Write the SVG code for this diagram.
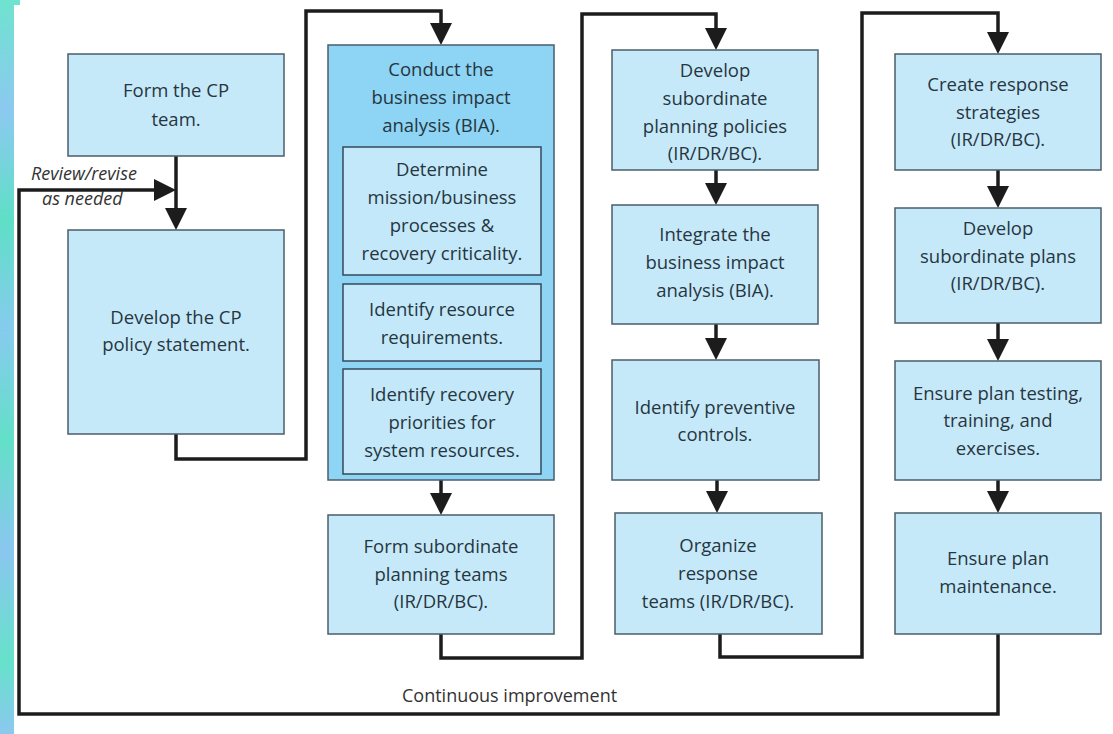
<svg xmlns="http://www.w3.org/2000/svg" width="1113" height="734" viewBox="0 0 1113 734">
<defs>
<linearGradient id="strip" x1="0" y1="0" x2="0" y2="1">
<stop offset="0" stop-color="#6fe3cf"/>
<stop offset="0.15" stop-color="#8cc9f0"/>
<stop offset="0.3" stop-color="#5fdfc6"/>
<stop offset="0.45" stop-color="#86cbee"/>
<stop offset="0.6" stop-color="#63e0c8"/>
<stop offset="0.75" stop-color="#8ac6ef"/>
<stop offset="0.9" stop-color="#66e1ca"/>
<stop offset="1" stop-color="#8bc8ef"/>
</linearGradient>
<marker id="ah" markerUnits="userSpaceOnUse" markerWidth="22" markerHeight="22" viewBox="0 0 22 22" refX="12" refY="11" orient="auto">
<path d="M0,0 L22,11 L0,22 Z" fill="#1c1c1c"/>
</marker>
<style>
.box{fill:#c6e9fa;stroke:#4a5d6a;stroke-width:1.5}
.big{fill:#8ed4f4;stroke:#4a5d6a;stroke-width:1.5}
.inner{fill:#c3e8f9;stroke:#34495a;stroke-width:1.5}
.t{font-family:"Open Sans","Noto Sans","Liberation Sans",sans-serif;font-size:18.5px;fill:#263640;text-anchor:middle}
.c{fill:none;stroke:#1c1c1c;stroke-width:3.5}
.a{marker-end:url(#ah)}
.lbl{font-family:"Open Sans","Noto Sans","Liberation Sans",sans-serif;font-size:18px;fill:#333}
</style>
</defs>
<rect x="0" y="0" width="1113" height="734" fill="#ffffff"/>
<rect x="0" y="0" width="14" height="734" fill="url(#strip)"/>
<rect x="0" y="0" width="20" height="5" fill="#6fe3cf"/>

<g id="connectors">
<path class="c a" d="M176,156 V220"/>
<path class="c a" d="M998,634 V714 H19 V190 H166"/>
<path class="c a" d="M176,434 V459 H306 V11 H441 V35"/>
<path class="c a" d="M441,480 V505"/>
<path class="c a" d="M441,634 V658 H582 V14 H716 V40"/>
<path class="c a" d="M716,170 V195"/>
<path class="c a" d="M716,324 V350"/>
<path class="c a" d="M717,480 V503"/>
<path class="c a" d="M720,634 V657 H862 V13 H998 V44"/>
<path class="c a" d="M998,170 V198"/>
<path class="c a" d="M998,323 V351"/>
<path class="c a" d="M998,480 V503"/>
<text class="lbl" x="402" y="702">Continuous improvement</text>
<text class="lbl" x="31" y="180" font-style="italic">Review/revise</text>
<text class="lbl" x="42" y="205" font-style="italic">as needed</text>
</g>

<g id="form-cp-team">
<rect class="box" x="68" y="54" width="216" height="102"/>
<text class="t" x="176" y="97">Form the CP</text>
<text class="t" x="176" y="126">team.</text>
</g>
<g id="develop-cp-policy">
<rect class="box" x="68" y="230" width="216" height="204"/>
<text class="t" x="176" y="324">Develop the CP</text>
<text class="t" x="176" y="351">policy statement.</text>
</g>

<g id="conduct-bia">
<rect class="big" x="328" y="45" width="226" height="435"/>
<text class="t" x="441" y="76">Conduct the</text>
<text class="t" x="441" y="104">business impact</text>
<text class="t" x="441" y="132">analysis (BIA).</text>
</g>
<g id="determine-mission">
<rect class="inner" x="343" y="147" width="198" height="128"/>
<text class="t" x="442" y="176">Determine</text>
<text class="t" x="442" y="204">mission/business</text>
<text class="t" x="442" y="232">processes &amp;</text>
<text class="t" x="442" y="260">recovery criticality.</text>
</g>
<g id="identify-resource">
<rect class="inner" x="343" y="284" width="198" height="77"/>
<text class="t" x="442" y="316">Identify resource</text>
<text class="t" x="442" y="344">requirements.</text>
</g>
<g id="identify-recovery">
<rect class="inner" x="343" y="369" width="198" height="105"/>
<text class="t" x="442" y="401">Identify recovery</text>
<text class="t" x="442" y="429">priorities for</text>
<text class="t" x="442" y="457">system resources.</text>
</g>
<g id="form-subordinate-teams">
<rect class="box" x="328" y="515" width="226" height="119"/>
<text class="t" x="441" y="553">Form subordinate</text>
<text class="t" x="441" y="581">planning teams</text>
<text class="t" x="441" y="608">(IR/DR/BC).</text>
</g>

<g id="develop-subordinate-policies">
<rect class="box" x="612" y="50" width="206" height="120"/>
<text class="t" x="715" y="77">Develop</text>
<text class="t" x="715" y="105">subordinate</text>
<text class="t" x="715" y="133">planning policies</text>
<text class="t" x="715" y="160">(IR/DR/BC).</text>
</g>
<g id="integrate-bia">
<rect class="box" x="612" y="205" width="206" height="119"/>
<text class="t" x="715" y="241">Integrate the</text>
<text class="t" x="715" y="269">business impact</text>
<text class="t" x="715" y="297">analysis (BIA).</text>
</g>
<g id="identify-preventive">
<rect class="box" x="612" y="360" width="207" height="120"/>
<text class="t" x="715" y="414">Identify preventive</text>
<text class="t" x="715" y="441">controls.</text>
</g>
<g id="organize-response">
<rect class="box" x="615" y="513" width="207" height="121"/>
<text class="t" x="718" y="552">Organize</text>
<text class="t" x="718" y="580">response</text>
<text class="t" x="718" y="608">teams (IR/DR/BC).</text>
</g>

<g id="create-response-strategies">
<rect class="box" x="895" y="54" width="206" height="116"/>
<text class="t" x="998" y="91">Create response</text>
<text class="t" x="998" y="119">strategies</text>
<text class="t" x="998" y="146">(IR/DR/BC).</text>
</g>
<g id="develop-subordinate-plans">
<rect class="box" x="895" y="208" width="206" height="115"/>
<text class="t" x="998" y="235">Develop</text>
<text class="t" x="998" y="263">subordinate plans</text>
<text class="t" x="998" y="290">(IR/DR/BC).</text>
</g>
<g id="ensure-testing">
<rect class="box" x="895" y="361" width="206" height="119"/>
<text class="t" x="998" y="400">Ensure plan testing,</text>
<text class="t" x="998" y="427">training, and</text>
<text class="t" x="998" y="455">exercises.</text>
</g>
<g id="ensure-maintenance">
<rect class="box" x="895" y="513" width="206" height="121"/>
<text class="t" x="998" y="565">Ensure plan</text>
<text class="t" x="998" y="593">maintenance.</text>
</g>
</svg>
